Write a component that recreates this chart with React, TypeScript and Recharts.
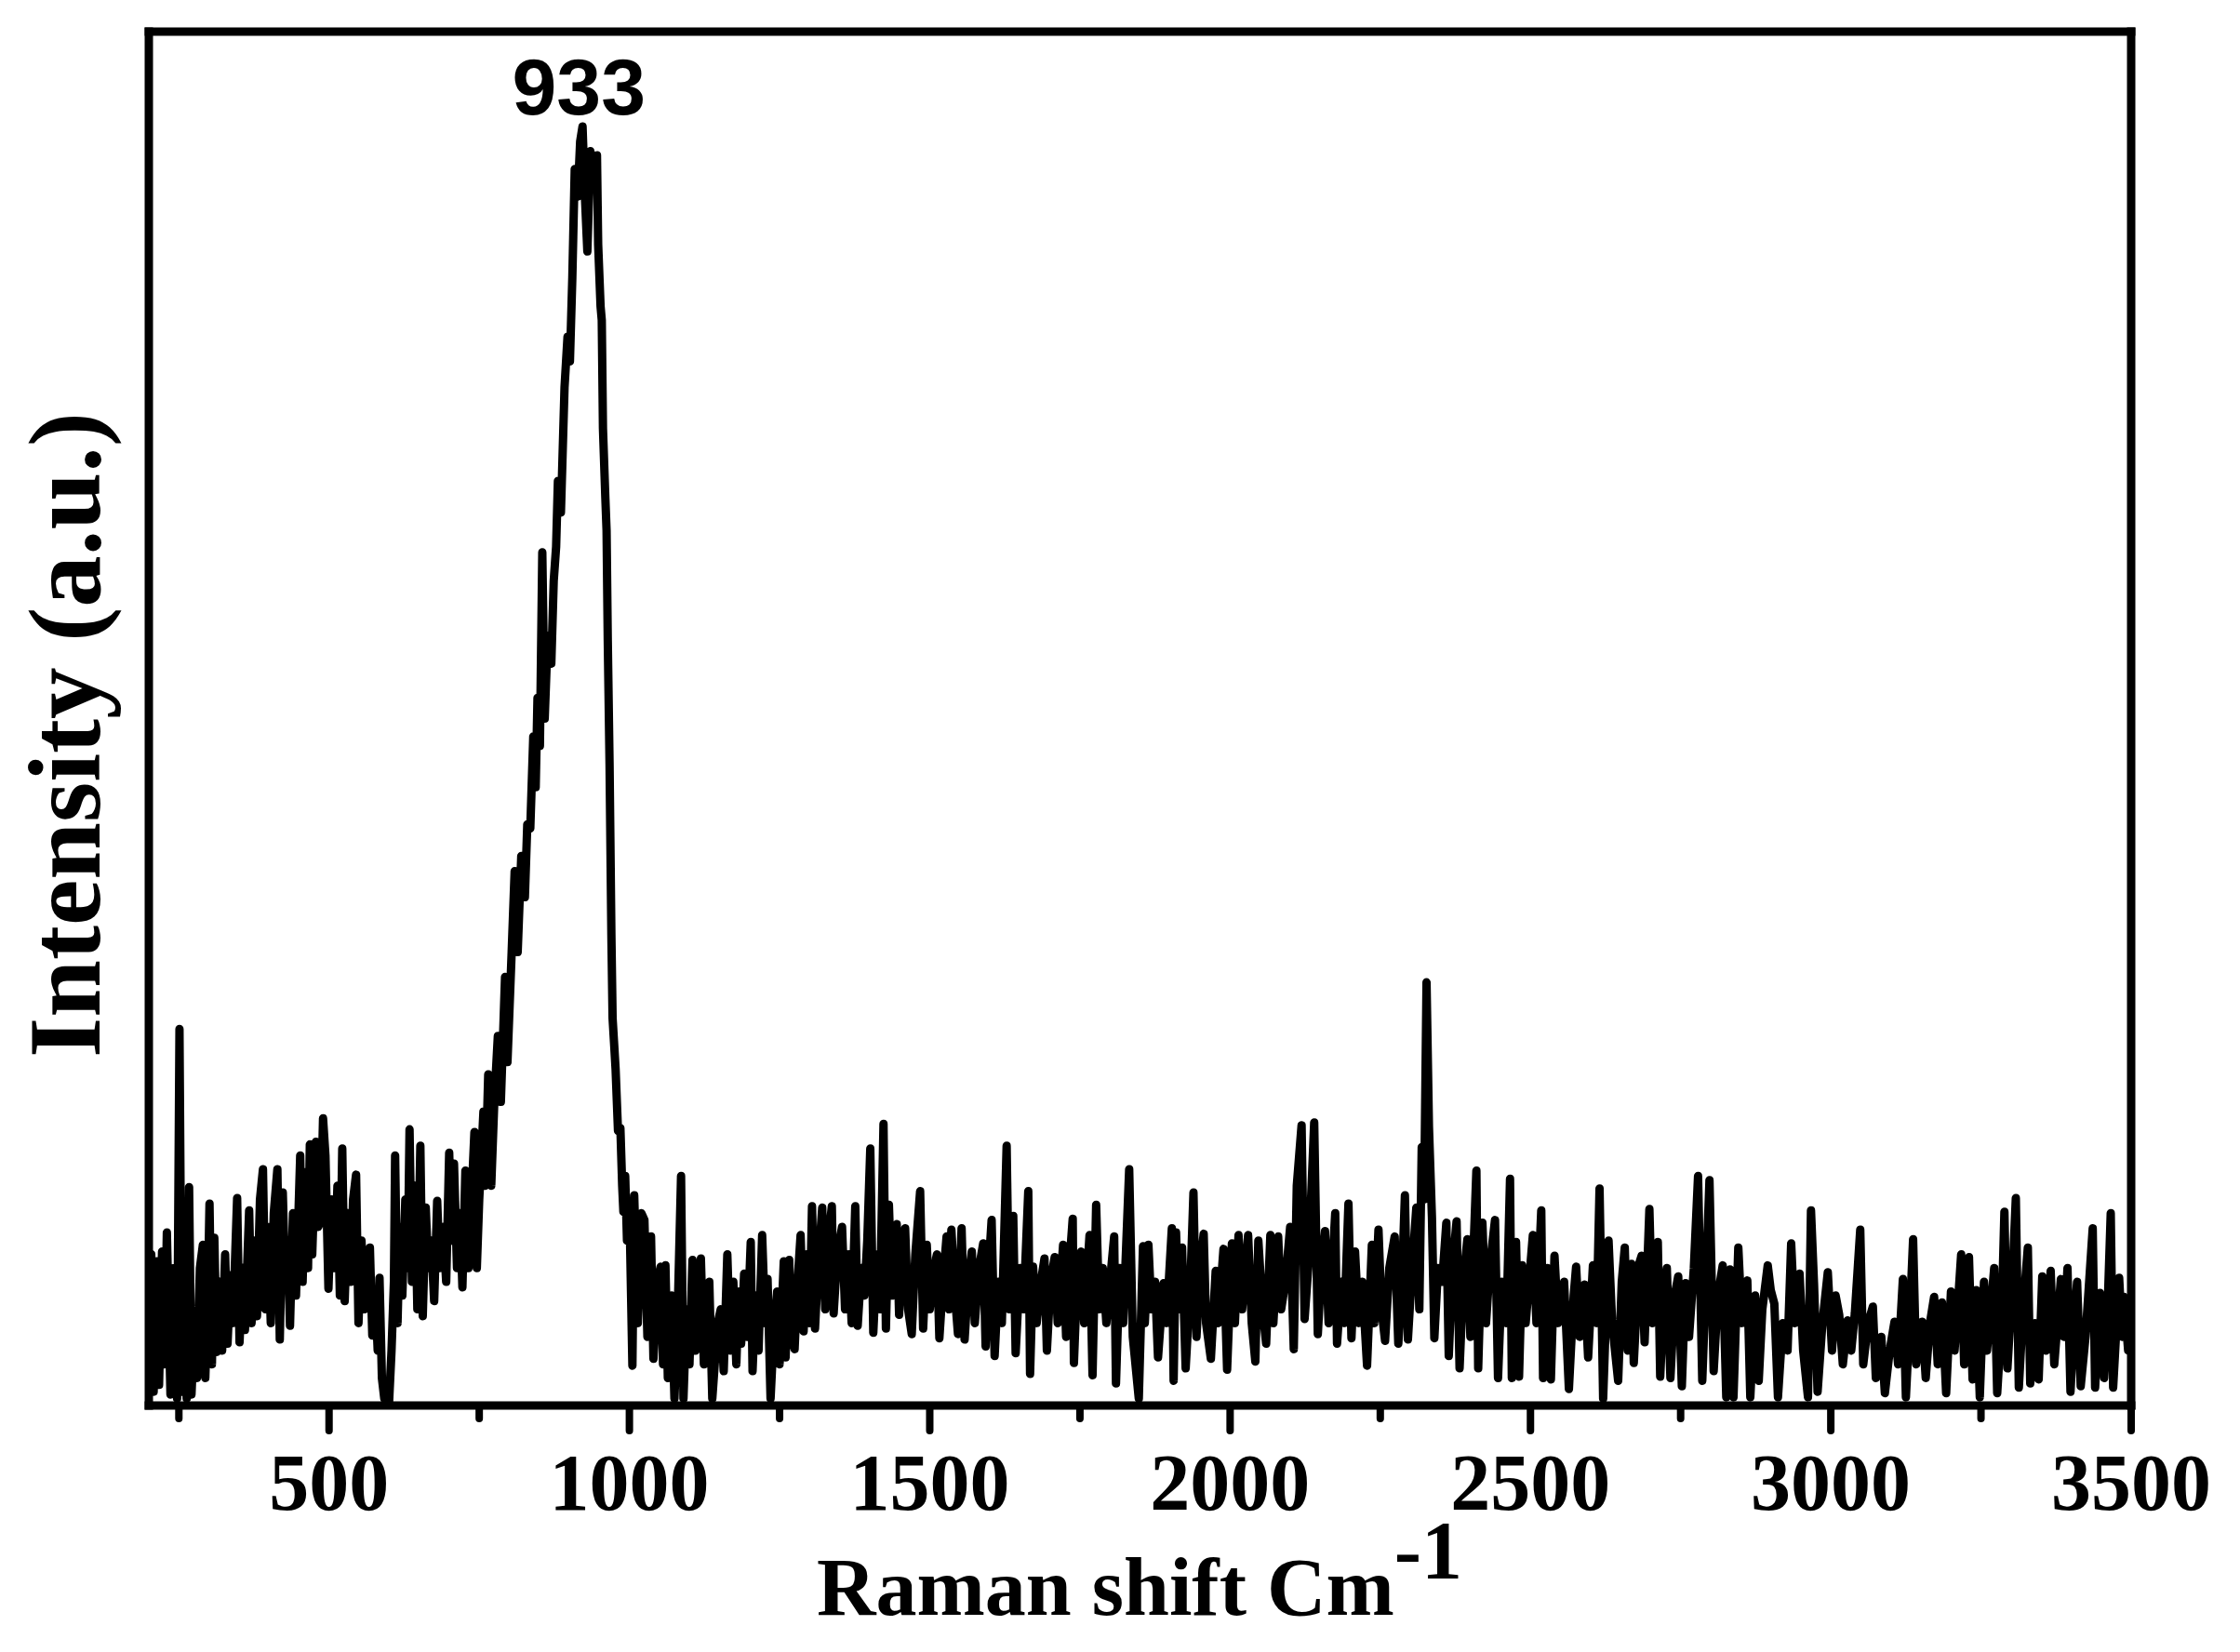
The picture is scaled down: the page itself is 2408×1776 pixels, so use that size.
import React from "react";
import { LineChart, Line, XAxis, YAxis, ReferenceLine, ReferenceDot } from "recharts";

// Raman shift (cm-1) and intensity (a.u., 0-1000 scale)
const lowShiftRegion: [number, number][] = [
  [200, 60], [204, 110], [208, 10], [213, 105], [217, 15], [222, 112], [226, 30], [230, 126],
  [236, 8], [242, 100], [247, 5], [251, 274], [255, 10], [259, 120], [263, 5], [267, 159],
  [271, 8], [276, 60], [280, 20], [285, 100], [290, 117], [294, 20], [298, 75], [301, 147],
  [305, 30], [309, 122], [313, 39], [318, 90], [322, 40], [327, 110], [331, 45], [336, 95],
  [340, 60], [347, 151], [351, 46], [356, 100], [360, 55], [367, 142], [371, 60], [376, 120],
  [380, 65], [385, 150], [390, 172], [394, 70], [398, 130], [403, 60], [408, 140], [414, 172],
  [418, 48], [423, 155], [427, 90], [431, 120], [435, 58], [440, 140], [445, 80], [452, 182],
  [456, 90], [461, 170], [465, 100], [468, 190], [472, 110], [478, 192], [482, 130], [486, 134],
  [490, 209], [494, 182], [499, 85], [504, 150], [509, 100], [514, 160], [518, 80], [522, 187],
  [526, 76], [531, 140], [536, 90], [540, 150], [545, 168], [549, 60], [554, 120], [559, 70],
  [563, 100], [568, 115], [572, 51], [577, 80], [581, 40], [584, 93], [588, 20], [592, 5],
  [596, 10], [600, 3], [604, 40], [608, 90], [610, 182], [614, 60], [618, 130], [622, 80],
  [627, 150], [631, 100], [634, 201], [638, 90], [643, 160], [647, 70], [652, 189], [656, 65],
  [661, 144], [665, 100], [670, 120], [675, 76], [680, 149], [684, 100], [690, 130], [695, 90],
  [700, 184], [704, 120], [708, 176], [713, 100], [718, 140], [722, 86], [727, 171], [732, 100],
  [737, 150], [742, 199], [746, 100], [750, 150], [757, 214], [760, 160], [765, 241], [770, 160],
  [775, 220], [781, 269], [786, 221],
];

const peakRegion: [number, number][] = [
  [793, 312], [797, 250], [804, 330], [809, 389], [814, 330], [820, 400], [826, 370], [830, 423],
  [835, 420], [840, 487], [844, 450], [847, 515], [851, 480], [855, 621], [859, 500], [864, 560],
  [870, 540], [874, 600], [878, 625], [881, 673], [886, 650], [892, 741], [897, 778], [901, 760],
  [905, 821], [909, 900], [914, 880], [918, 920], [922, 931], [926, 880], [930, 840], [935, 913],
  [940, 900], [946, 910], [948, 845], [952, 800], [954, 790], [956, 711], [960, 660], [962, 637],
  [964, 557], [967, 466], [970, 343], [972, 282], [975, 260], [977, 245], [981, 200], [985, 202],
  [988, 160], [990, 141], [993, 167], [996, 120], [1000, 145], [1005, 29], [1008, 153],
];

const midRegion: [number, number][] = [
  [1014, 60], [1020, 140], [1025, 135], [1030, 50], [1036, 123], [1040, 34], [1046, 90], [1052, 101],
  [1056, 30], [1060, 102], [1064, 20], [1070, 80], [1075, 5], [1080, 60], [1086, 167], [1090, 5],
  [1095, 70], [1100, 30], [1105, 106], [1110, 40], [1115, 80], [1119, 107], [1124, 30], [1128, 70],
  [1133, 90], [1138, 5], [1142, 30], [1147, 60], [1152, 70], [1157, 25], [1163, 110], [1168, 40],
  [1173, 90], [1178, 30], [1182, 83], [1186, 45], [1191, 96], [1196, 50], [1202, 119], [1205, 25],
  [1210, 80], [1215, 40], [1221, 124], [1226, 60], [1230, 92], [1235, 5], [1240, 50], [1246, 83],
  [1250, 30], [1257, 105], [1260, 35], [1266, 106], [1270, 50], [1275, 41], [1280, 90], [1285, 124],
  [1290, 54], [1295, 110], [1300, 60], [1304, 145], [1309, 56], [1314, 100], [1321, 144], [1326, 70],
  [1331, 120], [1337, 145], [1340, 67], [1346, 110], [1354, 130], [1359, 70], [1365, 110], [1370, 60],
  [1376, 145], [1380, 58], [1386, 100], [1391, 80], [1396, 120], [1401, 187], [1406, 53], [1412, 110],
  [1417, 70], [1423, 205], [1427, 56], [1432, 146], [1437, 80], [1445, 132], [1449, 66], [1454, 110],
  [1459, 129], [1464, 70], [1470, 52], [1476, 110], [1484, 156], [1489, 56], [1495, 117], [1500, 70],
  [1507, 100], [1512, 110], [1516, 49], [1522, 90], [1528, 123], [1532, 70], [1536, 128], [1542, 80],
  [1547, 52], [1553, 129], [1558, 48], [1564, 90], [1570, 112], [1575, 60], [1582, 100], [1589, 118],
  [1593, 43], [1598, 100], [1603, 135], [1608, 36], [1614, 90], [1620, 60], [1628, 189], [1632, 70],
  [1639, 138], [1643, 38], [1650, 100], [1656, 70], [1664, 156], [1667, 23], [1672, 101], [1678, 60],
  [1685, 90], [1691, 107], [1695, 40], [1701, 90], [1708, 108], [1713, 60], [1722, 117], [1727, 50],
  [1732, 100], [1738, 136], [1740, 31], [1746, 100], [1752, 112], [1757, 60], [1766, 124], [1771, 22],
  [1777, 146], [1782, 70], [1788, 100], [1794, 60], [1800, 90], [1807, 123], [1810, 16], [1816, 100],
  [1822, 60], [1832, 172], [1838, 50], [1848, 5],
];

const highShiftRegion: [number, number][] = [
  [1855, 116], [1858, 60], [1864, 117], [1869, 70], [1875, 90], [1880, 35], [1889, 89], [1894, 60],
  [1903, 129], [1906, 18], [1910, 126], [1914, 70], [1920, 115], [1926, 27], [1934, 90], [1939, 155],
  [1944, 50], [1950, 100], [1956, 125], [1960, 60], [1968, 34], [1976, 98], [1980, 60], [1989, 114],
  [1995, 26], [2003, 118], [2008, 60], [2014, 124], [2020, 70], [2030, 124], [2036, 60], [2042, 32],
  [2047, 120], [2054, 70], [2060, 45], [2067, 124], [2072, 60], [2080, 123], [2085, 70], [2092, 90],
  [2100, 130], [2106, 41], [2111, 160], [2119, 204], [2124, 63], [2130, 100], [2140, 206], [2146, 52],
  [2152, 100], [2158, 127], [2164, 60], [2170, 100], [2175, 140], [2178, 45], [2185, 90], [2190, 60],
  [2197, 147], [2202, 49], [2208, 112], [2214, 60], [2220, 90], [2228, 29], [2236, 117], [2240, 60],
  [2247, 128], [2252, 70], [2258, 47], [2265, 100], [2274, 123], [2280, 45], [2286, 90], [2291, 153],
  [2296, 48], [2303, 100], [2310, 144], [2315, 70], [2319, 188], [2323, 150], [2327, 308], [2331, 203],
  [2336, 137], [2340, 49], [2346, 100], [2353, 90], [2360, 133], [2364, 36], [2370, 100], [2377, 134],
  [2382, 27], [2388, 90], [2395, 121], [2400, 50], [2410, 171], [2413, 27], [2420, 133], [2426, 60],
  [2432, 100], [2441, 135], [2446, 20], [2452, 90], [2460, 60], [2466, 165], [2469, 20], [2476, 119],
  [2481, 21], [2486, 102], [2492, 60], [2504, 124], [2510, 60], [2518, 142], [2521, 20], [2528, 100],
  [2534, 19], [2540, 109], [2546, 60], [2556, 90], [2564, 12], [2572, 80], [2576, 101], [2582, 50],
  [2590, 88], [2596, 35], [2604, 102], [2610, 60], [2615, 158], [2621, 5], [2630, 120], [2636, 60],
  [2646, 18], [2652, 90], [2657, 115], [2662, 40], [2668, 103], [2672, 31], [2680, 102],
];

const tailRegion: [number, number][] = [
  [2685, 109], [2690, 46], [2698, 143], [2703, 60], [2712, 119], [2716, 21], [2722, 80], [2727, 100],
  [2733, 20], [2740, 80], [2746, 94], [2752, 14], [2758, 89], [2764, 50], [2772, 100], [2779, 167],
  [2786, 18], [2792, 90], [2798, 164], [2805, 25], [2812, 80], [2820, 102], [2826, 6], [2832, 99],
  [2838, 6], [2846, 115], [2852, 60], [2861, 91], [2866, 6], [2874, 80], [2880, 18], [2886, 70],
  [2895, 102], [2900, 84], [2906, 74], [2912, 6], [2920, 60], [2928, 40], [2934, 118], [2940, 60],
  [2948, 96], [2954, 40], [2962, 6], [2967, 142], [2972, 89], [2978, 10], [2986, 60], [2995, 97],
  [3002, 40], [3008, 80], [3014, 66], [3020, 30], [3028, 62], [3034, 40], [3040, 67], [3049, 128],
  [3054, 30], [3062, 60], [3070, 72], [3075, 20], [3084, 50], [3090, 9], [3098, 40], [3106, 61],
  [3112, 30], [3120, 92], [3125, 6], [3130, 50], [3137, 121], [3142, 30], [3152, 61], [3158, 20],
  [3165, 60], [3172, 79], [3178, 30], [3185, 75], [3192, 9], [3200, 83], [3206, 40], [3211, 70],
  [3217, 110], [3222, 30], [3230, 108], [3236, 19], [3242, 84], [3248, 6], [3255, 90], [3260, 40],
  [3272, 100], [3277, 9], [3284, 60], [3289, 141], [3294, 27], [3301, 80], [3308, 151], [3313, 13],
  [3320, 70], [3328, 115], [3332, 16], [3340, 60], [3346, 19], [3352, 94], [3358, 40], [3366, 98],
  [3372, 30], [3383, 92], [3388, 50], [3394, 100], [3399, 10], [3405, 60], [3410, 90], [3416, 14],
  [3424, 50], [3436, 129], [3440, 13], [3448, 82], [3455, 20], [3460, 60], [3466, 140], [3470, 13],
  [3480, 93], [3485, 50], [3488, 79], [3495, 40], [3500, 70],
];

const xTicks = [250, 500, 750, 1000, 1250, 1500, 1750, 2000, 2250, 2500, 2750, 3000, 3250, 3500];
const peakLabel = { x: 922, y: 931, text: "933" };

const data = [...lowShiftRegion, ...peakRegion, ...midRegion, ...highShiftRegion, ...tailRegion].map(
  ([x, v]) => ({ x, v })
);

const SERIF = "'Liberation Serif', 'Times New Roman', serif";
const SANS = "'Liberation Sans', Arial, sans-serif";

function ShiftTick(props: any) {
  const { x, y, payload } = props;
  const major = payload.value % 500 === 0;
  return (
    <g>
      <line
        x1={x}
        y1={y}
        x2={x}
        y2={y + (major ? 27 : 14)}
        stroke="#000"
        strokeWidth={8}
        strokeLinecap="round"
      />
      {major && (
        <text x={x} y={y + 112} textAnchor="middle" fontFamily={SERIF} fontWeight="bold" fontSize={86} fill="#000">
          {payload.value}
        </text>
      )}
    </g>
  );
}

function XTitle() {
  return (
    <text x={1225} y={1736} textAnchor="middle" fontFamily={SERIF} fontWeight="bold" fontSize={88} fill="#000">
      Raman shift Cm
      <tspan dy={-40}>-1</tspan>
    </text>
  );
}

function YTitle() {
  return (
    <text
      transform="rotate(-90)"
      x={-790}
      y={107}
      textAnchor="middle"
      fontFamily={SERIF}
      fontWeight="bold"
      fontSize={111}
      fill="#000"
    >
      Intensity (a.u.)
    </text>
  );
}

function PeakText(props: any) {
  const { viewBox } = props;
  const cx = viewBox.x + viewBox.width / 2;
  const cy = viewBox.y + viewBox.height / 2;
  return (
    <text x={cx - 4} y={cy - 13} textAnchor="middle" fontFamily={SANS} fontWeight="bold" fontSize={86} fill="#000">
      {peakLabel.text}
    </text>
  );
}

export default function App() {
  return (
    <div style={{ position: "absolute", top: 0, left: 0, width: 2408, height: 1776, background: "#fff" }}>
      <LineChart width={2408} height={1776} data={data} margin={{ top: 34, right: 117, bottom: 264, left: 159 }}>
        <XAxis
          dataKey="x"
          type="number"
          domain={[200, 3500]}
          ticks={xTicks}
          allowDataOverflow
          height={1}
          tickSize={0}
          tickMargin={0}
          tickLine={false}
          axisLine={{ stroke: "#000", strokeWidth: 9, strokeLinecap: "square" }}
          tick={<ShiftTick />}
          label={<XTitle />}
        />
        <YAxis
          type="number"
          domain={[0, 1000]}
          allowDataOverflow
          width={1}
          tick={false}
          tickLine={false}
          axisLine={{ stroke: "#000", strokeWidth: 9, strokeLinecap: "square" }}
          label={<YTitle />}
        />
        <ReferenceLine y={1000} stroke="#000" strokeWidth={9} strokeLinecap="square" />
        <ReferenceLine x={3500} stroke="#000" strokeWidth={9} strokeLinecap="square" />
        <Line
          dataKey="v"
          type="linear"
          stroke="#000"
          strokeWidth={9}
          strokeLinejoin="round"
          strokeLinecap="round"
          dot={false}
          activeDot={false}
          isAnimationActive={false}
        />
        <ReferenceDot x={peakLabel.x} y={peakLabel.y} r={0} stroke="none" fill="none" label={<PeakText />} />
      </LineChart>
    </div>
  );
}
